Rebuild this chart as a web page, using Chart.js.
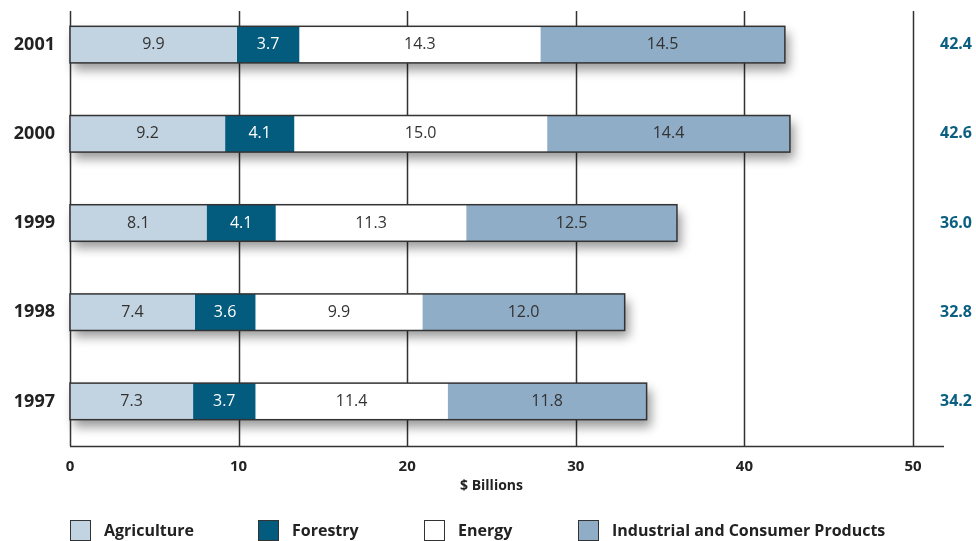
<!DOCTYPE html>
<html>
<head>
<meta charset="utf-8">
<script src="https://cdn.jsdelivr.net/npm/chart.js@4/dist/chart.umd.min.js"></script>
<style>
body{margin:0;background:#fff;font-family:"Open Sans",sans-serif}
#wrap{position:relative;width:976px;height:541px}
#legend{position:absolute;left:0;top:519px;width:976px;height:22px}
.item{position:absolute;top:0;display:flex;align-items:center;font-weight:bold;font-size:16px;color:#222;white-space:nowrap}
.box{width:21px;height:21px;border:1px solid #333;margin-right:13px;box-sizing:border-box}
</style>
</head>
<body>
<div id="wrap">
<canvas id="chart" width="976" height="541"></canvas>
<div id="legend"></div>
</div>
<script>
// years, top to bottom
const years = ["2001","2000","1999","1998","1997"]

// $ billions per sector
const agriculture = [9.9, 9.2, 8.1, 7.4, 7.3]
const forestry = [3.7, 4.1, 4.1, 3.6, 3.7]
const energy = [14.3, 15.0, 11.3, 9.9, 11.4]
const industrial = [14.5, 14.4, 12.5, 12.0, 11.8]

// published totals
const totals = ["42.4","42.6","36.0","32.8","34.2"]

const xTicks = [0, 10, 20, 30, 40, 50]

const sectorNames = ["Agriculture","Forestry","Energy","Industrial and Consumer Products"]
const sectorColors = ["#c2d3e1","#035b7e","#ffffff","#8fadc7"]
const labelColors = ["#333","#fff","#333","#333"]
const legendX = [70, 258, 424, 578]

const gridTop = 11
const axisRight = 944

const decor = {
id:"decor",
beforeDatasetsDraw(chart){
const {ctx, chartArea, scales:{x}} = chart
ctx.save()
ctx.strokeStyle = "#333"
ctx.lineWidth = 1.5

xTicks.forEach(v=>{
const px = Math.round(x.getPixelForValue(v)) + 0.5
ctx.beginPath()
ctx.moveTo(px, gridTop)
ctx.lineTo(px, chartArea.bottom)
ctx.stroke()
})

ctx.beginPath()
ctx.moveTo(chartArea.left, chartArea.bottom + 0.5)
ctx.lineTo(axisRight, chartArea.bottom + 0.5)
ctx.stroke()

/* drop shadow under each stacked bar */
const first = chart.getDatasetMeta(0).data
const last = chart.getDatasetMeta(3).data
ctx.fillStyle = "#fff"
ctx.shadowColor = "rgba(0,0,0,0.4)"
ctx.shadowBlur = 10
ctx.shadowOffsetX = 4
ctx.shadowOffsetY = 7
first.forEach((bar,i)=>{
const b = bar.getProps(["base","y","height"], true)
const e = last[i].getProps(["x"], true)
ctx.fillRect(b.base, b.y - b.height/2, e.x - b.base, b.height)
})
ctx.restore()
},
afterDatasetsDraw(chart){
const {ctx} = chart
const first = chart.getDatasetMeta(0).data
const last = chart.getDatasetMeta(3).data
ctx.save()

/* outline around each whole bar */
ctx.strokeStyle = "#333"
ctx.lineWidth = 1.5
first.forEach((bar,i)=>{
const b = bar.getProps(["base","y","height"], true)
const e = last[i].getProps(["x"], true)
ctx.strokeRect(b.base, b.y - b.height/2, e.x - b.base, b.height)
})

/* segment values */
ctx.font = "16px 'Open Sans'"
ctx.textAlign = "center"
ctx.textBaseline = "middle"
chart.data.datasets.forEach((ds,d)=>{
chart.getDatasetMeta(d).data.forEach((bar,i)=>{
const p = bar.getProps(["x","base","y"], true)
ctx.fillStyle = labelColors[d]
ctx.fillText(ds.data[i].toFixed(1), (p.x + p.base)/2, p.y)
})
})

/* year labels */
ctx.font = "bold 18px 'Open Sans'"
ctx.textAlign = "right"
ctx.fillStyle = "#222"
first.forEach((bar,i)=>{
ctx.fillText(chart.data.labels[i], 55, bar.y)
})

/* totals on the right */
ctx.font = "bold 16px 'Open Sans'"
ctx.fillStyle = "#0b5f80"
first.forEach((bar,i)=>{
ctx.fillText(totals[i], 972, bar.y)
})
ctx.restore()
}
}

const series = [agriculture, forestry, energy, industrial]

new Chart(document.getElementById("chart"),{
type:"bar",
data:{
labels:years,
datasets:series.map((data,i)=>({
label:sectorNames[i],
data:data,
backgroundColor:sectorColors[i],
borderWidth:0,
barPercentage:0.82,
categoryPercentage:0.5
}))
},
options:{
indexAxis:"y",
responsive:false,
animation:false,
layout:{padding:{top:0,right:63,left:0,bottom:0}},
plugins:{legend:{display:false},tooltip:{enabled:false}},
scales:{
x:{
stacked:true,
min:0,
max:50,
grid:{display:false},
border:{display:false},
ticks:{stepSize:10,padding:4,color:"#222",font:{family:"Open Sans",size:15,weight:"bold"}},
title:{display:true,text:"$ Billions",color:"#222",padding:{top:0,bottom:47},font:{family:"Open Sans",size:14,weight:"bold"}},
afterFit(scale){ scale.height = 95 }
},
y:{
stacked:true,
grid:{display:false},
border:{display:false},
ticks:{display:false},
afterFit(scale){ scale.width = 70 }
}
}
},
plugins:[decor]
})

/* legend */
const legend = document.getElementById("legend")
sectorNames.forEach((name,i)=>{
const item = document.createElement("div")
item.className = "item"
item.style.left = legendX[i] + "px"
item.innerHTML = `<span class="box" style="background:${sectorColors[i]}"></span>${name}`
legend.appendChild(item)
})
</script>
</body>
</html>
